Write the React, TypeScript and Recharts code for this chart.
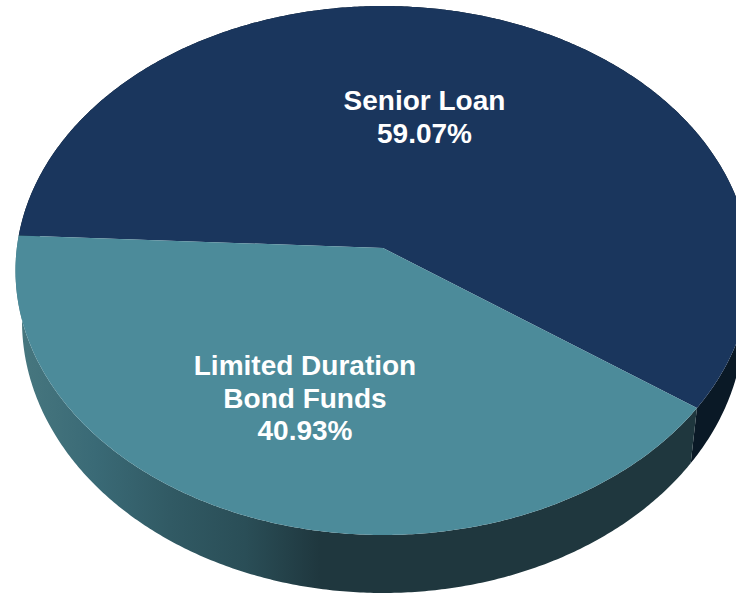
import { PieChart, Pie, Cell } from 'recharts';

const CATEGORIES = ['Senior Loan', 'Limited Duration Bond Funds'];
const SHARES = [59.07, 40.93];
const LABEL_LINES = [['Senior Loan', '59.07%'], ['Limited Duration', 'Bond Funds', '40.93%']];

const COLORS = ['#1a365d', '#4c8b9a'];
const WALL_FILLS = ['#0a1926', 'url(#tealWall)'];
const LABEL_X = [424.5, 305];
const LABEL_Y = [110, 375];

const pieData = CATEGORIES.map((name, i) => ({ name, value: SHARES[i] }));

// the picture is a tilted pie: a circle seen in perspective, so the centre sits above the middle of the ellipse
const TOP_FACE = { a: 367.5, b: 264.5, shift: -22.5, drop: 22.5 };
const BOTTOM_EDGE = { a: 361, b: 272, shift: -22, drop: 73 };

type Face = typeof TOP_FACE;

function project(angle: number, face: Face, cx: number, cy: number) {
  const rad = (angle * Math.PI) / 180;
  const u = Math.cos(rad);
  const v = -Math.sin(rad);
  const k = face.shift / face.b;
  const w = 1 + k * v;
  return {
    x: cx + (face.a * Math.sqrt(1 - k * k) * u) / w,
    y: cy + face.drop + (face.b * v + face.shift) / w,
  };
}

function arcPoints(start: number, end: number, face: Face, cx: number, cy: number) {
  const steps = Math.ceil(Math.abs(end - start) * 2);
  const points = [];
  for (let i = 0; i <= steps; i++) {
    const p = project(start + ((end - start) * i) / steps, face, cx, cy);
    points.push(`${p.x.toFixed(2)} ${p.y.toFixed(2)}`);
  }
  return points;
}

function TiltedSector(props: any) {
  const { cx, cy, startAngle, endAngle, fill, index } = props;
  const top = arcPoints(startAngle, endAngle, TOP_FACE, cx, cy);
  const bottom = arcPoints(endAngle, startAngle, BOTTOM_EDGE, cx, cy);
  return (
    <g>
      <path d={`M${[...top, ...bottom].join('L')}Z`} fill={WALL_FILLS[index]} />
      <path d={`M${cx} ${cy}L${top.join('L')}Z`} fill={fill} />
    </g>
  );
}

function SliceLabel(props: any) {
  const { index } = props;
  return (
    <text
      x={LABEL_X[index]}
      y={LABEL_Y[index]}
      textAnchor="middle"
      fill="#ffffff"
      fontFamily="'Liberation Sans', Arial, sans-serif"
      fontWeight="bold"
      fontSize={28}
    >
      {LABEL_LINES[index].map((line, i) => (
        <tspan key={line} x={LABEL_X[index]} dy={i === 0 ? 0 : 32.5}>
          {line}
        </tspan>
      ))}
    </text>
  );
}

export default function App() {
  return (
    <div style={{ position: 'absolute', left: 0, top: 0, width: 736, height: 595, overflow: 'hidden', background: '#fff' }}>
      <PieChart width={736} height={595} margin={{ top: 0, right: 0, bottom: 0, left: 0 }}>
        <defs>
          <linearGradient id="tealWall" gradientUnits="userSpaceOnUse" x1={20} y1={0} x2={320} y2={0}>
            <stop offset="0%" stopColor="#47777f" />
            <stop offset="25%" stopColor="#3a6a76" />
            <stop offset="50%" stopColor="#315a64" />
            <stop offset="75%" stopColor="#2a4e57" />
            <stop offset="100%" stopColor="#1f373e" />
          </linearGradient>
        </defs>
        <Pie
          data={pieData}
          dataKey="value"
          nameKey="name"
          cx={383}
          cy={248}
          innerRadius={0}
          outerRadius={367}
          startAngle={-35.4}
          endAngle={324.6}
          stroke="none"
          isAnimationActive={false}
          shape={TiltedSector}
          label={SliceLabel}
          labelLine={false}
        >
          {pieData.map((entry, i) => (
            <Cell key={entry.name} fill={COLORS[i]} />
          ))}
        </Pie>
      </PieChart>
    </div>
  );
}
